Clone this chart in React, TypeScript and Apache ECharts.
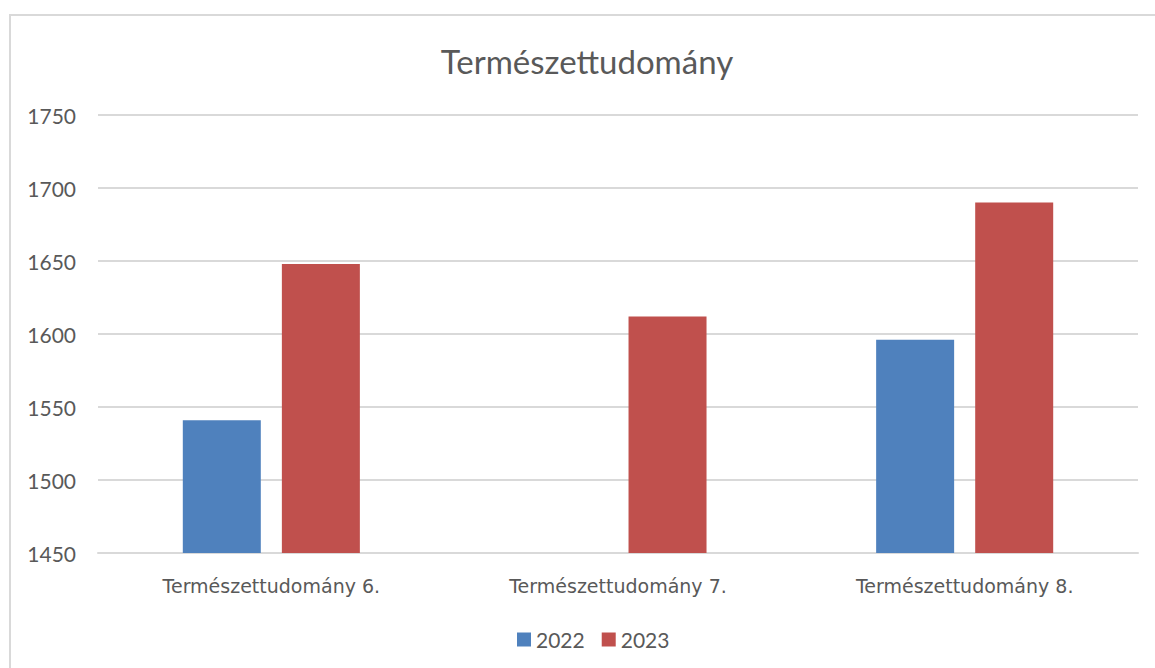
import React, { useEffect, useRef } from "react";
import * as echarts from "echarts";

const categories = ["Természettudomány 6.", "Természettudomány 7.", "Természettudomány 8."];
const seriesNames = ["2022", "2023"];
const values2022: (number | null)[] = [1541, null, 1596];
const values2023: (number | null)[] = [1648, 1612, 1690];
const titleText = "Természettudomány";

const FONT = "Lato, 'Open Sans', sans-serif";
const CAT_FONT = "'DejaVu Sans', sans-serif";
const TXT = "#595959";

export default function App() {
  const ref = useRef<HTMLDivElement>(null);
  useEffect(() => {
    document.body.style.margin = "0";
    document.body.style.overflow = "hidden";
    if (!ref.current) return;
    const chart = echarts.init(ref.current, null, { renderer: "svg" });
    chart.setOption({
      animation: false,
      backgroundColor: "#ffffff",
      title: {
        text: titleText,
        left: "center",
        top: 39,
        textStyle: { fontFamily: FONT, fontSize: 33, fontWeight: "normal", color: TXT },
      },
      graphic: [
        {
          type: "polyline",
          shape: { points: [[10, 2000], [10, 15], [2000, 15]] },
          style: { fill: "none", stroke: "#D9D9D9", lineWidth: 2 },
          silent: true,
        },
      ],
      legend: {
        bottom: 13,
        left: 512,
        itemWidth: 14,
        itemHeight: 14,
        itemGap: 17,
        icon: "rect",
        textStyle: { fontFamily: FONT, fontSize: 21, color: TXT },
        data: seriesNames,
      },
      grid: { left: 98, right: 36, top: 115, bottom: 115 },
      xAxis: {
        type: "category",
        data: categories,
        axisLine: { show: true, lineStyle: { color: "#D9D9D9", width: 2 } },
        axisTick: { show: false },
        axisLabel: { fontFamily: CAT_FONT, fontSize: 19, color: TXT, margin: 23 },
      },
      yAxis: {
        type: "value",
        min: 1450,
        max: 1750,
        interval: 50,
        axisLine: { show: false },
        axisTick: { show: false },
        axisLabel: {
          fontFamily: FONT,
          fontSize: 21,
          color: TXT,
          margin: 22,
          formatter: (v: number) => String(v),
        },
        splitLine: { lineStyle: { color: "#D9D9D9", width: 2 } },
      },
      series: [
        {
          name: seriesNames[0],
          type: "bar",
          data: values2022,
          barWidth: "22.5%",
          barGap: "27%",
          itemStyle: { color: "#4F81BD" },
        },
        {
          name: seriesNames[1],
          type: "bar",
          data: values2023,
          barWidth: "22.5%",
          barGap: "27%",
          itemStyle: { color: "#C0504D" },
        },
      ],
    });
    return () => chart.dispose();
  }, []);
  return (
    <div style={{ width: 1155, height: 668, overflow: "hidden", background: "#ffffff" }}>
      <div ref={ref} style={{ width: 1174, height: 668 }} />
    </div>
  );
}
